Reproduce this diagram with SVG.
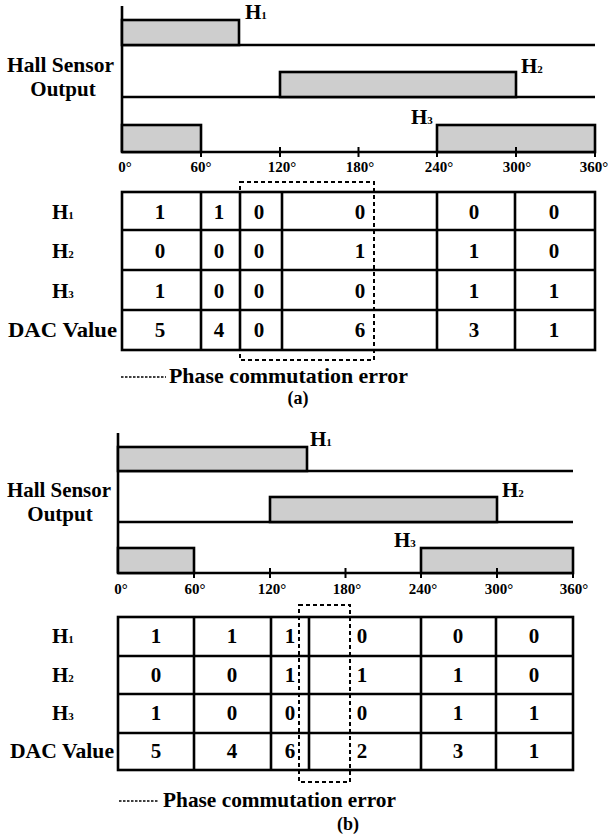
<svg xmlns="http://www.w3.org/2000/svg" width="611" height="836" viewBox="0 0 611 836">
<style>
.t{font-family:'Liberation Serif','DejaVu Serif',serif;font-weight:bold;fill:#000}
.big{font-size:21px}
.deg{font-size:15px;text-anchor:middle}
.c{font-size:21px;text-anchor:middle}
.sub{font-size:11px}
.pulse{fill:#cecece;stroke:#000;stroke-width:2.6}
.ln{stroke:#000;stroke-width:2.6;fill:none}
.tk{stroke:#000;stroke-width:2;fill:none}
.dash{stroke:#000;stroke-width:2;stroke-dasharray:4 3;fill:none}
.dot{stroke:#000;stroke-width:1.5;stroke-dasharray:2.5 1.5;fill:none}
</style>
<rect width="611" height="836" fill="#fff"/>

<!-- ================= (a) ================= -->
<g id="a-waveforms">
  <path class="ln" d="M122,6V152M122,45H595M122,97H595M122,152H595"/>
  <rect class="pulse" x="122" y="20" width="117" height="25"/>
  <rect class="pulse" x="280" y="72" width="236" height="25"/>
  <rect class="pulse" x="122" y="125" width="79" height="27"/>
  <rect class="pulse" x="437" y="125" width="158" height="27"/>
  <path class="tk" d="M201,147V157M280,147V157M358.5,147V157M437,147V157M516,147V157M595,147V157"/>
  <text class="t" x="245" y="19" font-size="21">H<tspan class="sub">1</tspan></text>
  <text class="t" x="521" y="73" font-size="21">H<tspan class="sub">2</tspan></text>
  <text class="t" x="411" y="124" font-size="21">H<tspan class="sub">3</tspan></text>
  <text class="t big" x="7" y="72" textLength="107" lengthAdjust="spacingAndGlyphs">Hall Sensor</text>
  <text class="t big" x="63" y="96" text-anchor="middle">Output</text>
  <text class="t deg" x="125" y="172">0°</text>
  <text class="t deg" x="201" y="172">60°</text>
  <text class="t deg" x="282" y="172">120°</text>
  <text class="t deg" x="360" y="172">180°</text>
  <text class="t deg" x="439" y="172">240°</text>
  <text class="t deg" x="517" y="172">300°</text>
  <text class="t deg" x="594" y="172">360°</text>
</g>
<g id="a-table">
  <rect class="ln" x="122" y="192" width="473" height="158"/>
  <path class="ln" d="M122,230H595M122,270H595M122,310H595M201,192V350M240,192V350M282,192V350M437,192V350M515,192V350"/>
  <text class="t big" x="52" y="219">H<tspan class="sub">1</tspan></text>
  <text class="t big" x="52" y="258">H<tspan class="sub">2</tspan></text>
  <text class="t big" x="52" y="298">H<tspan class="sub">3</tspan></text>
  <text class="t big" x="8" y="337" textLength="109" lengthAdjust="spacingAndGlyphs">DAC Value</text>
  <g class="t c">
    <text x="160" y="219">1</text><text x="219" y="219">1</text><text x="259" y="219">0</text><text x="360" y="219">0</text><text x="474" y="219">0</text><text x="554" y="219">0</text>
    <text x="160" y="258">0</text><text x="219" y="258">0</text><text x="259" y="258">0</text><text x="360" y="258">1</text><text x="474" y="258">1</text><text x="554" y="258">0</text>
    <text x="160" y="298">1</text><text x="219" y="298">0</text><text x="259" y="298">0</text><text x="360" y="298">0</text><text x="474" y="298">1</text><text x="554" y="298">1</text>
    <text x="160" y="337">5</text><text x="219" y="337">4</text><text x="259" y="337">0</text><text x="360" y="337">6</text><text x="474" y="337">3</text><text x="554" y="337">1</text>
  </g>
  <rect id="a-error-box" class="dash" x="240" y="182" width="134" height="178"/>
</g>
<g id="a-legend">
  <path class="dot" d="M121,377H166"/>
  <text class="t big" x="169" y="383" textLength="239" lengthAdjust="spacingAndGlyphs">Phase commutation error</text>
  <text class="t" x="298" y="404" font-size="18" text-anchor="middle">(a)</text>
</g>

<!-- ================= (b) ================= -->
<g id="b-waveforms">
  <path class="ln" d="M118,433V573M118,471H573M118,522H573M118,573H573"/>
  <rect class="pulse" x="118" y="447" width="189" height="24"/>
  <rect class="pulse" x="270" y="497" width="227" height="25"/>
  <rect class="pulse" x="118" y="548" width="76" height="25"/>
  <rect class="pulse" x="421" y="548" width="152" height="25"/>
  <path class="tk" d="M194,568V578M270,568V578M345.5,568V578M421,568V578M497,568V578M573,568V578"/>
  <text class="t" x="310" y="446" font-size="21">H<tspan class="sub">1</tspan></text>
  <text class="t" x="502" y="497" font-size="21">H<tspan class="sub">2</tspan></text>
  <text class="t" x="394" y="547" font-size="21">H<tspan class="sub">3</tspan></text>
  <text class="t big" x="7" y="497" textLength="104" lengthAdjust="spacingAndGlyphs">Hall Sensor</text>
  <text class="t big" x="60" y="521" text-anchor="middle">Output</text>
  <text class="t deg" x="121" y="594">0°</text>
  <text class="t deg" x="195" y="594">60°</text>
  <text class="t deg" x="272" y="594">120°</text>
  <text class="t deg" x="347" y="594">180°</text>
  <text class="t deg" x="423" y="594">240°</text>
  <text class="t deg" x="499" y="594">300°</text>
  <text class="t deg" x="574" y="594">360°</text>
</g>
<g id="b-table">
  <rect class="ln" x="118" y="617" width="455" height="153"/>
  <path class="ln" d="M118,656H573M118,694H573M118,733H573M194,617V770M271,617V770M309,617V770M421,617V770M496,617V770"/>
  <text class="t big" x="52" y="643">H<tspan class="sub">1</tspan></text>
  <text class="t big" x="52" y="682">H<tspan class="sub">2</tspan></text>
  <text class="t big" x="52" y="720">H<tspan class="sub">3</tspan></text>
  <text class="t big" x="10" y="758" textLength="104" lengthAdjust="spacingAndGlyphs">DAC Value</text>
  <g class="t c">
    <text x="290" y="643">1</text><text x="156" y="643">1</text><text x="232" y="643">1</text><text x="362" y="643">0</text><text x="458" y="643">0</text><text x="534" y="643">0</text>
    <text x="156" y="682">0</text><text x="232" y="682">0</text><text x="290" y="682">1</text><text x="362" y="682">1</text><text x="458" y="682">1</text><text x="534" y="682">0</text>
    <text x="156" y="720">1</text><text x="232" y="720">0</text><text x="290" y="720">0</text><text x="362" y="720">0</text><text x="458" y="720">1</text><text x="534" y="720">1</text>
    <text x="156" y="758">5</text><text x="232" y="758">4</text><text x="290" y="758">6</text><text x="362" y="758">2</text><text x="458" y="758">3</text><text x="534" y="758">1</text>
  </g>
  <rect id="b-error-box" class="dash" x="299" y="605" width="51" height="177"/>
</g>
<g id="b-legend">
  <path class="dot" d="M119,801H159"/>
  <text class="t big" x="163" y="807" textLength="233" lengthAdjust="spacingAndGlyphs">Phase commutation error</text>
  <text class="t" x="348" y="830" font-size="18" text-anchor="middle">(b)</text>
</g>
</svg>
